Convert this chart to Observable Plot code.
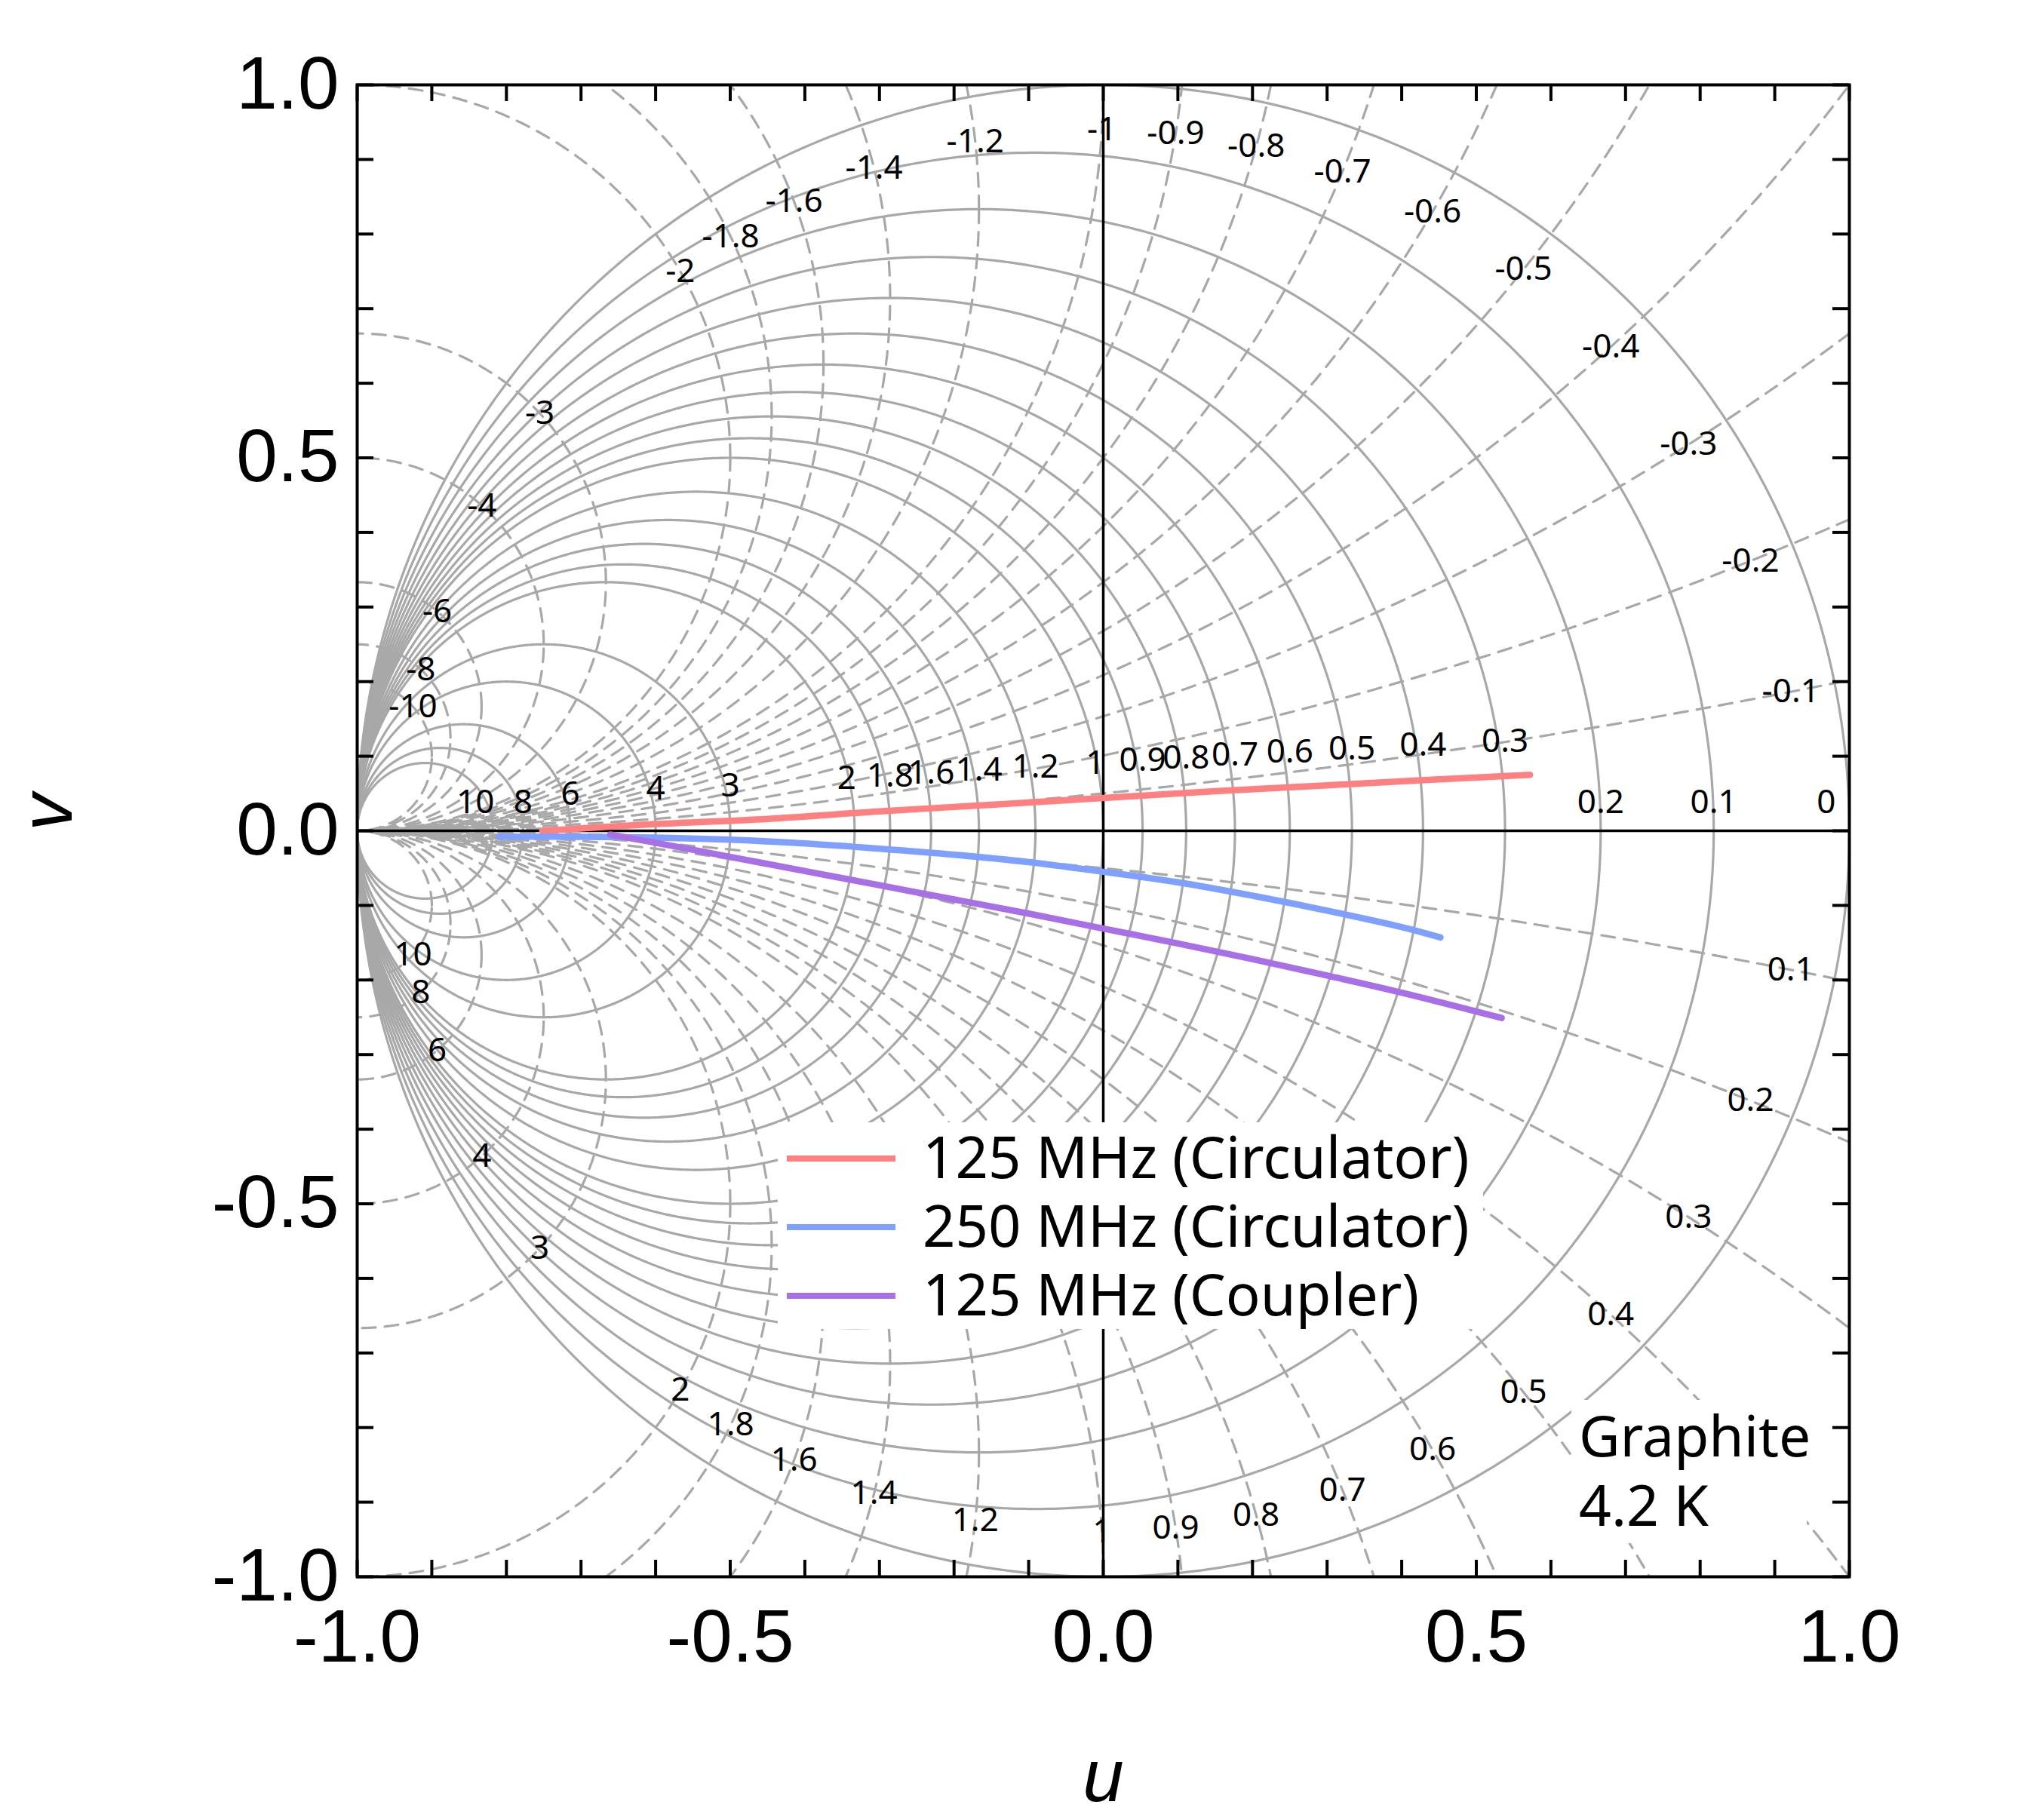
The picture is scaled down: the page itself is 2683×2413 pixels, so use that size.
<!DOCTYPE html>
<html>
<head>
<meta charset="utf-8">
<script src="https://cdn.jsdelivr.net/npm/d3@7"></script>
<script src="https://cdn.jsdelivr.net/npm/@observablehq/plot@0.6"></script>
<style>
  body { margin: 0; background: #fff; }
  #chart { position: relative; width: 2683px; height: 2413px; }
</style>
</head>
<body>
<div id="chart"></div>
<script>
// ---------- data ----------
const xTicks = [-1, -0.5, 0, 0.5, 1];
const yTicks = [-1, -0.5, 0, 0.5, 1];
const minorTicks = [-1, -0.9, -0.8, -0.7, -0.6, -0.5, -0.4, -0.3, -0.2, -0.1, 0, 0.1, 0.2, 0.3, 0.4, 0.5, 0.6, 0.7, 0.8, 0.9, 1];

const resistanceValues = [0, 0.1, 0.2, 0.3, 0.4, 0.5, 0.6, 0.7, 0.8, 0.9, 1, 1.2, 1.4, 1.6, 1.8, 2, 3, 4, 6, 8, 10];
const reactanceValues = [0.1, 0.2, 0.3, 0.4, 0.5, 0.6, 0.7, 0.8, 0.9, 1, 1.2, 1.4, 1.6, 1.8, 2, 3, 4, 6, 8, 10];

const seriesNames = ["125 MHz (Circulator)", "250 MHz (Circulator)", "125 MHz (Coupler)"];
const seriesColors = ["#ff8080", "#80a0ff", "#a870e6"];

const circ125_u = [-0.752, -0.6, -0.45, -0.3, -0.15, 0, 0.15, 0.3, 0.45, 0.572];
const circ125_v = [0.000, 0.009, 0.016, 0.026, 0.035, 0.044, 0.053, 0.061, 0.069, 0.075];

const circ250_u = [-0.81, -0.7, -0.6, -0.5, -0.4, -0.3, -0.2, -0.1, 0, 0.1, 0.2, 0.3, 0.4, 0.452];
const circ250_v = [-0.008, -0.008, -0.009, -0.012, -0.017, -0.024, -0.032, -0.042, -0.055, -0.069, -0.087, -0.107, -0.129, -0.143];

const coup125_u = [-0.661, -0.6, -0.5, -0.4, -0.3, -0.2, -0.1, 0, 0.1, 0.2, 0.3, 0.4, 0.534];
const coup125_v = [-0.005, -0.016, -0.035, -0.054, -0.073, -0.092, -0.111, -0.131, -0.151, -0.172, -0.194, -0.217, -0.251];

const annotationLines = ["Graphite", "4.2 K"];

// ---------- layout ----------
const W = 2683, H = 2413;
const mL = 473, mR = 232, mT = 112, mB = 323;
const pxPerUnit = (W - mL - mR) / 2;
const tickLen = 22 / pxPerUnit;

// ---------- derived geometry ----------
function circlePoints(cx, cy, R, id) {
  const n = Math.ceil(720 * Math.max(1, R));
  const pts = [];
  for (let i = 0; i <= n; i++) {
    const t = 2 * Math.PI * i / n;
    pts.push({u: cx + R * Math.cos(t), v: cy + R * Math.sin(t), id});
  }
  return pts;
}
const resPts = resistanceValues.flatMap(r => circlePoints(-r / (1 + r), 0, 1 / (1 + r), "r" + r));
const reactPts = reactanceValues.flatMap(x => [
  ...circlePoints(-1, -1 / x, 1 / x, "xp" + x),
  ...circlePoints(-1, 1 / x, 1 / x, "xn" + x)
]);

const seriesRows = [
  ...circ125_u.map((u, i) => ({series: seriesNames[0], u, v: circ125_v[i]})),
  ...circ250_u.map((u, i) => ({series: seriesNames[1], u, v: circ250_v[i]})),
  ...coup125_u.map((u, i) => ({series: seriesNames[2], u, v: coup125_v[i]}))
];

// resistance labels: at the crossing with the real axis, lifted above the red trace
function redAt(u) {
  if (u < circ125_u[0] || u > circ125_u[circ125_u.length - 1]) return -Infinity;
  const i = Math.max(1, d3.bisectLeft(circ125_u, u));
  const t = (u - circ125_u[i - 1]) / (circ125_u[i] - circ125_u[i - 1]);
  return circ125_v[i - 1] + t * (circ125_v[i] - circ125_v[i - 1]);
}
const rightAligned = new Set([10, 2, 1, 0]);
const resLabels = resistanceValues.map(r => {
  const u = (1 - r) / (1 + r);
  return {u, v: Math.max(0.038, redAt(u) + 0.047), text: String(r), r};
});

// reactance labels: on each arc where |Gamma| = rho
const rho = 0.94;
function gamma(r, x) {
  const D = (1 + r) * (1 + r) + x * x;
  return {u: (1 - r * r - x * x) / D, v: -2 * x / D};
}
const reactLabels = reactanceValues.flatMap(x => [x, -x]).map(x => {
  const A = 1 - rho * rho, B = 1 + rho * rho;
  const r = (B - Math.sqrt(B * B - A * A * (1 + x * x))) / A;
  const g = gamma(r, x);
  return {u: g.u, v: g.v, text: String(x)};
});

const gray = "#a8a8a8";
const labelFont = "Noto Sans, Liberation Sans, sans-serif";
const labelOpts = {x: "u", y: "v", text: "text", fontSize: 44, fontFamily: labelFont, fill: "black", ariaLabel: "grid-label"};

const plot = Plot.plot({
  width: W, height: H,
  marginLeft: mL, marginRight: mR, marginTop: mT, marginBottom: mB,
  x: {domain: [-1, 1]},
  y: {domain: [-1, 1]},
  color: {domain: seriesNames, range: seriesColors},
  style: {fontFamily: "Liberation Sans, Arial, sans-serif", fontSize: "98px", background: "white", color: "black"},
  marks: [
    Plot.line(resPts, {x: "u", y: "v", z: "id", stroke: gray, strokeWidth: 3.2, clip: true}),
    Plot.line(reactPts, {x: "u", y: "v", z: "id", stroke: gray, strokeWidth: 3.2, strokeDasharray: "18,12", clip: true}),
    Plot.ruleX([0], {stroke: "black", strokeWidth: 3.5}),
    Plot.ruleY([0], {stroke: "black", strokeWidth: 3.5}),
    Plot.text(resLabels.filter(d => !rightAligned.has(d.r)), labelOpts),
    Plot.text(resLabels.filter(d => rightAligned.has(d.r) && d.r !== 0), {...labelOpts, textAnchor: "end", dx: 2}),
    Plot.text(resLabels.filter(d => d.r === 0), {...labelOpts, textAnchor: "end", dx: -18}),
    Plot.text(reactLabels, labelOpts),
    Plot.line(seriesRows, {x: "u", y: "v", z: "series", stroke: "series", strokeWidth: 8.5, strokeLinecap: "round", strokeLinejoin: "round", curve: "catmull-rom"}),
    Plot.frame({stroke: "black", strokeWidth: 4}),
    Plot.ruleX(minorTicks, {x: d => d, y1: -1, y2: -1 + tickLen, stroke: "black", strokeWidth: 4}),
    Plot.ruleX(minorTicks, {x: d => d, y1: 1, y2: 1 - tickLen, stroke: "black", strokeWidth: 4}),
    Plot.ruleY(minorTicks, {y: d => d, x1: -1, x2: -1 + tickLen, stroke: "black", strokeWidth: 4}),
    Plot.ruleY(minorTicks, {y: d => d, x1: 1, x2: 1 - tickLen, stroke: "black", strokeWidth: 4}),
    Plot.axisX(xTicks, {anchor: "bottom", tickSize: 0, tickPadding: 43, tickFormat: d => d.toFixed(1), fontSize: 98, label: null}),
    Plot.axisY(yTicks, {anchor: "left", tickSize: 0, tickPadding: 24, tickFormat: d => d.toFixed(1), fontSize: 98, label: null}),
    Plot.text(["u"], {text: d => d, frameAnchor: "bottom", lineAnchor: "bottom", dy: 297, fontSize: 98, fontStyle: "italic"}),
    Plot.text(["v"], {text: d => d, frameAnchor: "left", lineAnchor: "bottom", rotate: -90, dx: -379, fontSize: 98, fontStyle: "italic"})
  ]
});

document.getElementById("chart").append(plot);

// white boxes behind grid labels
plot.querySelectorAll('g[aria-label="grid-label"] text').forEach(t => {
  const bb = t.getBBox();
  const rect = document.createElementNS("http://www.w3.org/2000/svg", "rect");
  rect.setAttribute("x", bb.x - 3);
  rect.setAttribute("width", bb.width + 6);
  rect.setAttribute("y", bb.y + 0.16 * bb.height);
  rect.setAttribute("height", 0.72 * bb.height);
  rect.setAttribute("fill", "white");
  const tr = t.getAttribute("transform");
  if (tr) rect.setAttribute("transform", tr);
  t.parentNode.insertBefore(rect, t);
});

// legend (inside the plot, white box)
const svg = d3.select(plot);
const lg = svg.append("g").attr("font-family", labelFont).attr("font-size", 76)
  .attr("fill", "black").attr("text-anchor", "start");
lg.append("rect").attr("x", 1031).attr("y", 1488).attr("width", 935).attr("height", 274).attr("fill", "white");
seriesNames.forEach((name, i) => {
  const cy = 1536 + i * 91;
  lg.append("line").attr("x1", 1043).attr("x2", 1187).attr("y1", cy).attr("y2", cy)
    .attr("stroke", seriesColors[i]).attr("stroke-width", 8);
  lg.append("text").attr("x", 1223).attr("y", cy + 26).attr("text-anchor", "start").text(name);
});

// annotation
const an = svg.append("g").attr("font-family", labelFont).attr("font-size", 75)
  .attr("fill", "black").attr("text-anchor", "start");
an.append("rect").attr("x", 2083).attr("y", 1856).attr("width", 312).attr("height", 190).attr("fill", "white");
annotationLines.forEach((s, i) => {
  an.append("text").attr("x", 2093).attr("y", 1931 + i * 92).attr("text-anchor", "start").text(s);
});
</script>
</body>
</html>
